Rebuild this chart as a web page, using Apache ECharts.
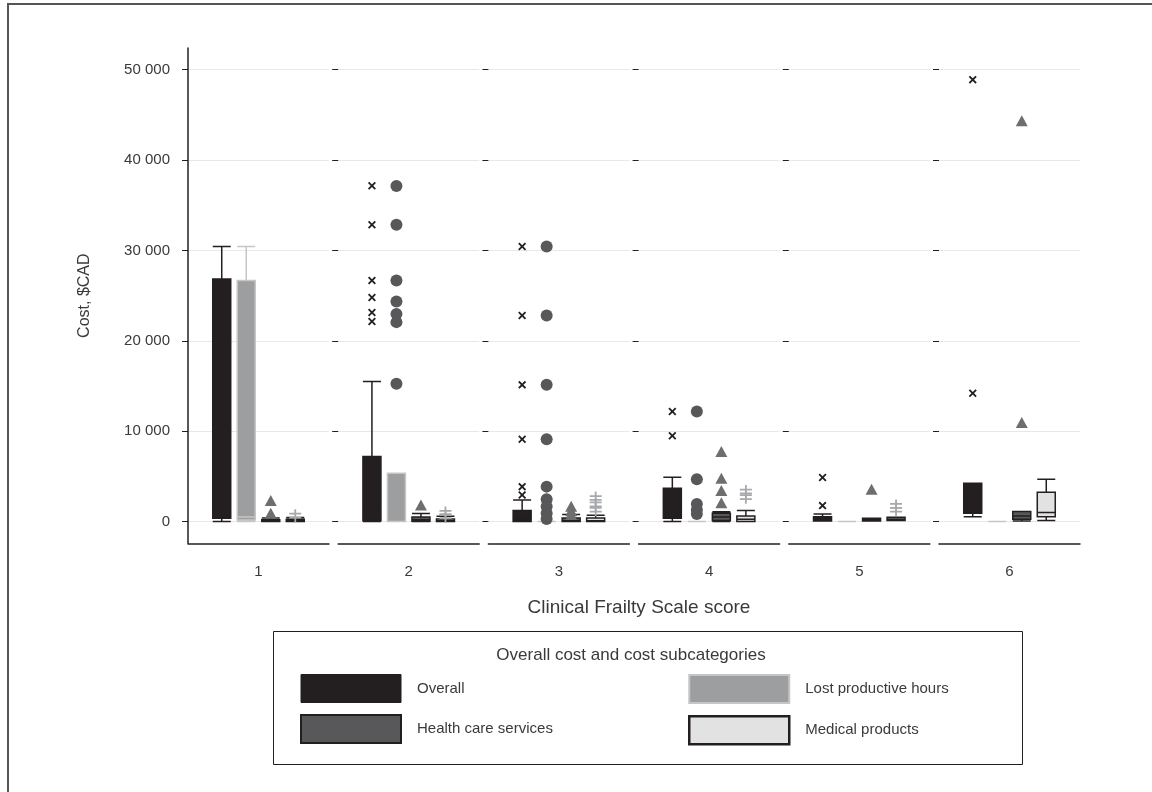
<!DOCTYPE html>
<html>
<head>
<meta charset="utf-8">
<script src="https://cdn.jsdelivr.net/npm/echarts@6/dist/echarts.min.js"></script>
<style>html,body{margin:0;padding:0;background:#fff}#chart{width:1152px;height:792px}</style>
</head>
<body>
<div id="chart"></div>
<script>
// ---- data ----
const scores = ['1', '2', '3', '4', '5', '6'];
const subcategories = ['Overall', 'Lost productive hours', 'Health care services', 'Medical products'];
const yTicks = [0, 10000, 20000, 30000, 40000, 50000];
// box stats per CFS score: [min, Q1, median, Q3, max]
const overallBox = [[0,380,600,26830,30440],[0,100,1500,7200,15500],[0,0,300,1220,2400],[0,380,1500,3700,4920],[80,80,300,550,850],[550,930,1500,4250,4250]];
const lostBox = [[0,190,500,26680,30440],[0,0,0,5360,5360],[0,0,0,0,0],[0,0,0,0,0],[0,0,0,0,0],[0,0,0,0,0]];
const healthBox = [[0,0,80,200,400],[0,50,200,500,900],[0,0,100,400,800],[0,110,500,930,1100],[80,80,200,370,370],[80,270,630,1110,1110]];
const medicalBox = [[0,0,100,250,450],[0,0,100,300,600],[0,0,100,400,700],[0,0,250,630,1220],[110,110,300,490,490],[110,550,1000,3250,4690]];
// outliers per CFS score
const overallOut = [[],[37160,32840,26680,24800,23130,22140],[30440,22800,15130,9120,3870,2950],[12180,9490],[4870,1770],[48900,14210]];
const lostOut = [[],[37140,32840,26680,24350,22960,22070,15240],[30440,22800,15130,9120,3870,2480,1660,930,300],[12180,4690,1960,1300,850],[],[]];
const healthOut = [[2330,930],[1850],[1700,1200,800],[7750,4800,3430,2100],[3590],[44350,10960]];
const medicalOut = [[650],[950,600],[2600,1900,1300],[3320,2700],[1740,1300],[]];

// ---- styles ----
const FONT = 'Liberation Sans';
const TXT = '#3a3a3a';
const yMin = -2400, yMax = 52400;
const gridTop = 48, gridH = 495.3;
const panelLeft0 = 188, panelStep = 150.2, panelW = 141;
const boxBand = 116.5;
const styles = [
  { color: '#231f20', borderColor: '#231f20', borderWidth: 1.5 },
  { color: '#9d9ea0', borderColor: '#c6c6c6', borderWidth: 1.5 },
  { color: '#58585a', borderColor: '#231f20', borderWidth: 1.5 },
  { color: '#e2e2e2', borderColor: '#231f20', borderWidth: 1.5 }
];
const legendStyles = [
  { color: '#231f20', borderColor: '#231f20', borderWidth: 1 },
  { color: '#9d9ea0', borderColor: '#c6c6c6', borderWidth: 2 },
  { color: '#58585a', borderColor: '#231f20', borderWidth: 2 },
  { color: '#e2e2e2', borderColor: '#231f20', borderWidth: 2.5 }
];
const xPath = 'path://M1.6,0 L5,3.4 L8.4,0 L10,1.6 L6.6,5 L10,8.4 L8.4,10 L5,6.6 L1.6,10 L0,8.4 L3.4,5 L0,1.6 Z';
const dagPath = 'path://M5.1,0 L6.9,0 L6.9,13 L5.1,13 Z M0,3.6 L12,3.6 L12,5.3 L0,5.3 Z M0,7.5 L12,7.5 L12,9.2 L0,9.2 Z';
const outSymbols = [
  { symbol: xPath, symbolSize: 8, color: '#231f20' },
  { symbol: 'circle', symbolSize: 12, color: '#58585a' },
  { symbol: 'triangle', symbolSize: [12, 11], color: '#6d6e70' },
  { symbol: dagPath, symbolSize: [12, 13], color: '#a7a9ac' }
];
const boxes = [overallBox, lostBox, healthBox, medicalBox];
const outs = [overallOut, lostOut, healthOut, medicalOut];

// box offsets, same rule ECharts uses to place side-by-side boxplots
const avail = boxBand * 0.8 - 2;
const gap = avail / 4 * 0.3;
const bw = (avail - gap * 3) / 4;
const offsets = [0, 1, 2, 3].map(i => bw / 2 - avail / 2 + i * (gap + bw));

const grids = [], xAxes = [], yAxes = [], series = [];
scores.forEach((s, p) => {
  const left = panelLeft0 + p * panelStep;
  // panel grid (axes, gridlines)
  grids.push({ left: left, top: gridTop, width: panelW, height: gridH });
  xAxes.push({
    type: 'category', gridIndex: 2 * p, data: [s],
    axisLine: { show: true, onZero: false, lineStyle: { color: '#231f20', width: 1.5 } },
    axisTick: { show: false },
    axisLabel: { fontFamily: FONT, fontSize: 15, color: TXT, margin: 21 },
    splitLine: { show: false }
  });
  yAxes.push({
    type: 'value', gridIndex: 2 * p, min: yMin, max: yMax,
    axisLine: { show: p === 0, onZero: false, lineStyle: { color: '#231f20', width: 1.5 } },
    axisTick: { show: true, customValues: yTicks, length: 6, lineStyle: { color: '#231f20', width: 1 } },
    axisLabel: {
      show: p === 0, customValues: yTicks, fontFamily: FONT, fontSize: 15, color: TXT, margin: 18,
      formatter: v => v === 0 ? '0' : (v / 1000) + ' 000'
    },
    splitLine: { show: true, lineStyle: { color: '#e8e8e8', width: 1 } },
    name: p === 0 ? 'Cost, $CAD' : '', nameLocation: 'middle', nameGap: 95,
    nameTextStyle: { fontFamily: FONT, fontSize: 16, color: TXT }
  });
  // box grid
  grids.push({ left: left + (panelW - boxBand) / 2, top: gridTop, width: boxBand, height: gridH });
  xAxes.push({ type: 'category', gridIndex: 2 * p + 1, data: [s], show: false });
  yAxes.push({ type: 'value', gridIndex: 2 * p + 1, min: yMin, max: yMax, show: false });
  subcategories.forEach((name, k) => {
    series.push({
      type: 'boxplot', name: name, xAxisIndex: 2 * p + 1, yAxisIndex: 2 * p + 1,
      boxWidth: [18, 18], data: [boxes[k][p]], itemStyle: styles[k],
      emphasis: { disabled: true }, z: 2
    });
  });
  subcategories.forEach((name, k) => {
    series.push({
      type: 'scatter', name: name + ' outliers', xAxisIndex: 2 * p + 1, yAxisIndex: 2 * p + 1,
      data: outs[k][p].map(v => [0, v]),
      symbol: outSymbols[k].symbol, symbolSize: outSymbols[k].symbolSize,
      symbolOffset: [offsets[k], 0], itemStyle: { color: outSymbols[k].color, opacity: 1 },
      emphasis: { disabled: true }, z: 3
    });
  });
});

const legendCommon = {
  orient: 'vertical', itemWidth: 100, itemHeight: 28, itemGap: 11, selectedMode: false,
  icon: 'rect', padding: 0,
  textStyle: { fontFamily: FONT, fontSize: 15, color: TXT, padding: [0, 0, 0, 11] }
};

const option = {
  animation: false,
  backgroundColor: '#fff',
  title: [
    { text: 'Clinical Frailty Scale score', left: 634, top: 593, textAlign: 'center',
      textStyle: { fontFamily: FONT, fontSize: 19, fontWeight: 'normal', color: TXT } },
    { text: 'Overall cost and cost subcategories', left: 626, top: 642, textAlign: 'center',
      textStyle: { fontFamily: FONT, fontSize: 17, fontWeight: 'normal', color: TXT } }
  ],
  grid: grids, xAxis: xAxes, yAxis: yAxes, series: series,
  legend: [
    Object.assign({}, legendCommon, { left: 300, top: 674,
      data: [0, 2].map(k => ({ name: subcategories[k], itemStyle: legendStyles[k] })) }),
    Object.assign({}, legendCommon, { left: 688, top: 674,
      data: [1, 3].map(k => ({ name: subcategories[k], itemStyle: legendStyles[k] })) })
  ],
  graphic: [
    { type: 'rect', left: 271, top: 629, shape: { width: 749, height: 133 },
      style: { fill: 'none', stroke: '#231f20', lineWidth: 1 }, silent: true },
    { type: 'polyline', shape: { points: [[8, 792], [8, 4], [1152, 4]] },
      style: { fill: 'none', stroke: '#555', lineWidth: 2 }, silent: true }
  ]
};

const chart = echarts.init(document.getElementById('chart'));
chart.setOption(option);
</script>
</body>
</html>
